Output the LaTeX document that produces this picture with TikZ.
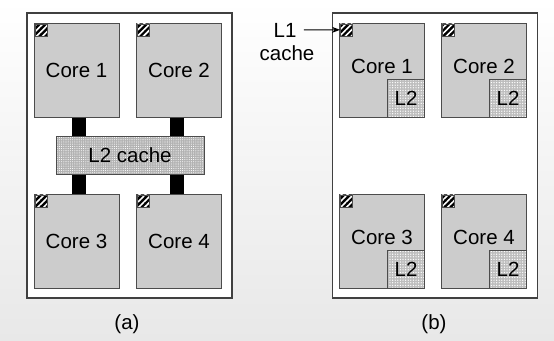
\documentclass[tikz,border=0pt]{standalone}
\usepackage{fontspec}
\setmainfont{Liberation Sans}
\usetikzlibrary{patterns.meta,arrows.meta}
\begin{document}
\begin{tikzpicture}[x=1pt,y=-1pt,
  every node/.style={font=\fontsize{20.5}{24}\selectfont, text=black},
  outerbox/.style={draw=black!75, line width=1.1pt, fill=white, inner sep=0pt,
    minimum width=205pt, minimum height=285pt},
  corebox/.style={draw=black!70, line width=1pt, fill=gray!40, inner sep=0pt,
    minimum width=85pt, minimum height=94pt},
  l2big/.style={draw=black!70, line width=1pt, inner sep=0pt,
    minimum width=148pt, minimum height=38pt,
    preaction={fill=black!30},
    pattern={Dots[distance=2.2pt,radius=0.55pt]}, pattern color=white},
  l2small/.style={draw=black!70, line width=1pt, inner sep=0pt,
    minimum width=37pt, minimum height=38pt,
    preaction={fill=black!26},
    pattern={Dots[distance=2.6pt,radius=0.7pt]}, pattern color=white},
  l1sq/.style={draw=black!70, line width=0.6pt, inner sep=0pt,
    minimum width=12pt, minimum height=12pt,
    preaction={fill=black},
    pattern={Lines[angle=45,distance=4.2pt,line width=1.6pt]}, pattern color=white},
  bus/.style={line width=14pt, black},
  arr/.style={-{Stealth[length=8pt,width=6pt]}, line width=1pt, black, shorten <=4pt}
]
\useasboundingbox (0,0) rectangle (554,340);
\shade[top color=white, bottom color=black!9] (0,0) rectangle (554,340);

% ---------- (a) ----------
\node[outerbox] (pa) at (129.5,155.5) {};
\node[corebox] (c1a) at (76.5,70) {Core 1};
\node[corebox] (c2a) at (179,70) {Core 2};
\node[corebox] (c3a) at (76.5,241) {Core 3};
\node[corebox] (c4a) at (179,241) {Core 4};
\node[l2big] (l2a) at (130,155) {L2 cache};
\draw[bus] ([xshift=2.5pt]c1a.south) -- ([xshift=2.5pt]c1a.south |- l2a.north);
\draw[bus] ([xshift=-2.5pt]c2a.south) -- ([xshift=-2.5pt]c2a.south |- l2a.north);
\draw[bus] ([xshift=2.5pt]c3a.north) -- ([xshift=2.5pt]c3a.north |- l2a.south);
\draw[bus] ([xshift=-2.5pt]c4a.north) -- ([xshift=-2.5pt]c4a.north |- l2a.south);
\node[l1sq, anchor=north west] (l1a1) at ([shift={(1pt,-1pt)}]c1a.north west) {};
\node[l1sq, anchor=north west] (l1a2) at ([shift={(1pt,-1pt)}]c2a.north west) {};
\node[l1sq, anchor=north west] (l1a3) at ([shift={(1pt,-1pt)}]c3a.north west) {};
\node[l1sq, anchor=north west] (l1a4) at ([shift={(1pt,-1pt)}]c4a.north west) {};
\node (capa) at (127,324) {(a)};

% ---------- (b) ----------
\node[outerbox] (pb) at (435,155.5) {};
\node[corebox] (c1b) at (382,70) {\raisebox{7pt}{Core 1}};
\node[corebox] (c2b) at (484,70) {\raisebox{7pt}{Core 2}};
\node[corebox] (c3b) at (382,241) {\raisebox{7pt}{Core 3}};
\node[corebox] (c4b) at (484,241) {\raisebox{7pt}{Core 4}};
\node[l2small, anchor=south east] (l2b1) at (c1b.south east) {L2};
\node[l2small, anchor=south east] (l2b2) at (c2b.south east) {L2};
\node[l2small, anchor=south east] (l2b3) at (c3b.south east) {L2};
\node[l2small, anchor=south east] (l2b4) at (c4b.south east) {L2};
\node[l1sq, anchor=north west] (l1b1) at ([shift={(1pt,-1pt)}]c1b.north west) {};
\node[l1sq, anchor=north west] (l1b2) at ([shift={(1pt,-1pt)}]c2b.north west) {};
\node[l1sq, anchor=north west] (l1b3) at ([shift={(1pt,-1pt)}]c3b.north west) {};
\node[l1sq, anchor=north west] (l1b4) at ([shift={(1pt,-1pt)}]c4b.north west) {};
\node (capb) at (434,324) {(b)};

\node (l1t) at (285,30) {L1};
\node (l1c) at (287,53) {cache};
\draw[arr] (l1t) -- (l1b1);
\end{tikzpicture}
\end{document}
